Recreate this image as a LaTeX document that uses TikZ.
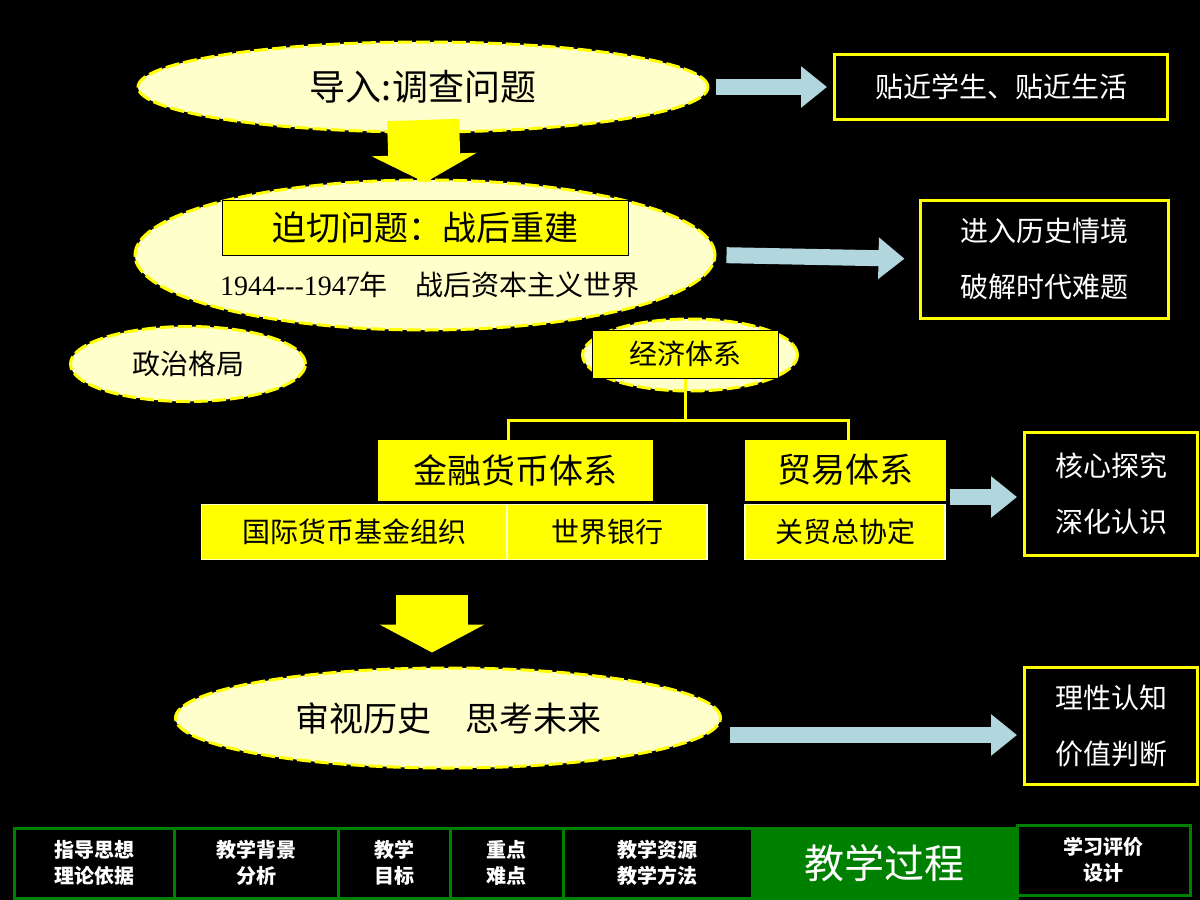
\documentclass[tikz,border=0pt]{standalone}
\usepackage{fontspec}
\setmainfont{Noto Sans CJK SC}
\newfontfamily\yearfont{Liberation Serif}
\usetikzlibrary{shapes.geometric,arrows.meta}
\definecolor{paleyellow}{RGB}{255,255,204}
\definecolor{markyellow}{RGB}{255,255,0}
\definecolor{iceblue}{RGB}{178,214,222}
\definecolor{tabgreen}{RGB}{0,128,0}
\tikzstyle{bubble} = [ellipse, inner sep=0pt, fill=paleyellow, draw=markyellow, line width=3pt, dash pattern=on 14pt off 4pt]
\tikzstyle{tag} = [rectangle, inner sep=0pt, fill=markyellow, draw=black, line width=1pt, text=black]
\tikzstyle{cell} = [rectangle, inner sep=0pt, fill=markyellow, draw=paleyellow, line width=1.5pt, text=black, font=\fontsize{28}{32}\selectfont]
\tikzstyle{note} = [rectangle, inner sep=0pt, draw=markyellow, line width=3pt, text=white, font=\fontsize{28}{56}\selectfont, align=left]
\tikzstyle{tab} = [rectangle, inner sep=0pt, draw=tabgreen, line width=3pt, fill=black, text=white, font=\bfseries\fontsize{20}{26}\selectfont, align=center, minimum height=70pt]
\tikzstyle{blue arrow} = [iceblue, line width=16pt, -{Triangle[width=40pt,length=26pt]}]
\tikzstyle{yellow arrow} = [markyellow, line width=72pt, -{Triangle[width=104pt,length=28pt]}]
\tikzstyle{branch} = [markyellow, line width=3pt]

\begin{document}
\begin{tikzpicture}[x=1pt, y=-1pt]
        \fill[black] (0,0) rectangle (1200,900);
        \useasboundingbox (0,0) rectangle (1200,900);

        % top
        \node (Intro) [bubble, minimum width=570pt, minimum height=90pt, font=\fontsize{36}{40}\selectfont] at (423,87) {导入:调查问题};
        \node (Near) [note, minimum width=333pt, minimum height=65pt] at (1001,87) {贴近学生、贴近生活};
        \draw [blue arrow] (Intro.east) ++(6,0) -- (Near.west) [shorten >=6pt];
        \coordinate (Down One) at (423,120);

        % urgent problem
        \node (Urgent) [bubble, minimum width=580pt, minimum height=150pt] at (425,255) {};
        \node (Rebuild) [tag, minimum width=406pt, minimum height=55pt, font=\fontsize{34}{38}\selectfont] at (425,228) {迫切问题：战后重建};
        \node (Years) [text=black, font=\fontsize{28}{32}\selectfont] at (430,285) {\yearfont 1944---1947\rmfamily 年\quad 战后资本主义世界};
        \draw [yellow arrow, shorten >=-4pt] (Down One) -- (Urgent.north);
        \node (Situation) [note, minimum width=248pt, minimum height=118pt] at (1044,259) {进入历史情境\\破解时代难题};
        \draw [blue arrow, shorten >=14pt, shorten <=10pt] (Urgent.east) -- (Situation.west);

        % politics and economy
        \node (Politics) [bubble, minimum width=235pt, minimum height=75pt, font=\fontsize{28}{32}\selectfont] at (188,364) {政治格局};
        \node (Economy Oval) [bubble, minimum width=215pt, minimum height=72pt] at (690,355) {};
        \node (Economy) [tag, minimum width=186pt, minimum height=48pt, font=\fontsize{28}{32}\selectfont] at (685,354) {经济体系};

        \node (Finance) [tag, draw=markyellow, minimum width=274pt, minimum height=60pt, font=\fontsize{34}{38}\selectfont] at (515,470) {金融货币体系};
        \node (Trade) [tag, draw=markyellow, minimum width=200pt, minimum height=60pt, font=\fontsize{34}{38}\selectfont] at (845,470) {贸易体系};
        \draw [branch] (Economy.south) -- ++(0,42) coordinate (Fork);
        \draw [branch] (Finance.north -| 508,0) |- (Fork) -| (Trade.north -| 848,0);

        \node (IMF) [cell, minimum width=305pt, minimum height=55pt] at (354,532) {国际货币基金组织};
        \node (Bank) [cell, minimum width=200pt, minimum height=55pt] at (607,532) {世界银行};
        \node (GATT) [cell, minimum width=200pt, minimum height=55pt] at (845,532) {关贸总协定};
        \node (Core) [note, minimum width=173pt, minimum height=123pt] at (1111,494) {核心探究\\深化认识};
        \draw [blue arrow, shorten >=6pt, shorten <=4pt] (Trade.east |- 0,497) -- (Core.west |- 0,497);

        % future
        \node (Future) [bubble, minimum width=545pt, minimum height=100pt, font=\fontsize{34}{38}\selectfont] at (448,718) {审视历史\quad 思考未来};
        \coordinate (Down Two) at (432,595);
        \draw [yellow arrow, shorten >=14pt] (Down Two) -- (Future.north -| Down Two);
        \node (Judge) [note, minimum width=173pt, minimum height=117pt] at (1111,726) {理性认知\\价值判断};
        \draw [blue arrow, shorten >=6pt, shorten <=8pt] (Future.east |- 0,735) -- (Judge.west |- 0,735);

        % tabs
        \node (Guide) [tab, minimum width=160pt] at (94,863) {指导思想\\理论依据};
        \node (Background) [tab, minimum width=164pt] at (256,863) {教学背景\\分析};
        \node (Goal) [tab, minimum width=112pt] at (394,863) {教学\\目标};
        \node (Key) [tab, minimum width=113pt] at (506.5,863) {重点\\难点};
        \node (Method) [tab, minimum width=189pt] at (657.5,863) {教学资源\\教学方法};
        \node (Process) [tab, fill=tabgreen, minimum width=265pt, font=\fontsize{40}{44}\selectfont] at (884.5,863) {教学过程};
        \node (Assess) [tab, minimum width=173pt] at (1103.5,860) {学习评价\\设计};
    \end{tikzpicture}
\end{document}
